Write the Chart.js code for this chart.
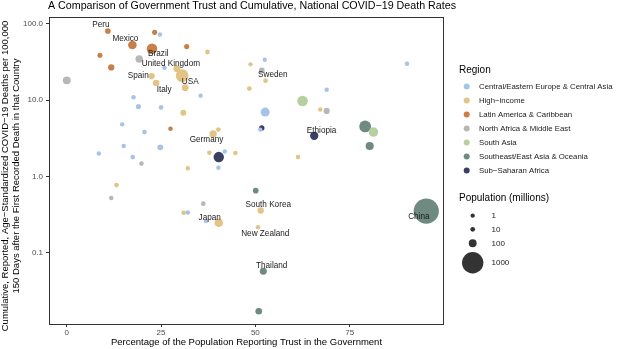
<!DOCTYPE html>
<html>
<head>
<meta charset="utf-8">
<script src="https://cdn.jsdelivr.net/npm/chart.js@4.4.1/dist/chart.umd.min.js"></script>
<style>
html,body{margin:0;padding:0;background:#fff;}
#wrap{position:relative;width:618px;height:349px;}
</style>
</head>
<body>
<div id="wrap"><canvas id="c" width="618" height="349"></canvas></div>
<script>
const regions = ["Central/Eastern Europe & Central Asia","High\u2212income","Latin America & Caribbean","North Africa & Middle East","South Asia","Southeast/East Asia & Oceania","Sub\u2212Saharan Africa"];
const regionColors = ["#a7c4e6","#e3c487","#c8804a","#b7b7b7","#b8d0a0","#6f8a80","#3b3f63"];

// Percentage trusting government
const trust = [10.9,23.3,24.7,17.4,22.6,31.8,8.8,19.2,37.3,11.8,25.9,29.2,0.0,30.6,22.5,23.7,31.4,48.4,17.7,35.5,19.0,25.0,30.9,14.7,27.5,20.6,38.8,40.2,15.1,24.8,8.5,17.5,37.8,40.3,41.9,44.7,19.8,32.1,40.2,52.5,48.7,51.7,52.7,90.2,68.9,62.5,67.2,68.9,52.6,51.7,51.3,65.6,79.1,81.3,80.3,61.3,13.2,11.8,36.2,31.0,32.1,36.9,40.3,50.1,51.4,50.7,52.1,50.9,95.3];
// Deaths per 100,000
const deaths = [80.0,76.9,71.8,52.5,47.0,50.0,38.5,34.4,42.5,26.7,26.5,25.7,18.1,20.8,20.6,16.7,14.5,14.1,10.9,11.4,8.2,8.0,6.8,4.8,4.2,3.8,3.6,4.1,2.5,2.4,2.0,1.79,2.04,1.79,2.12,2.02,1.47,1.28,1.30,33.7,29.3,24.4,17.9,29.9,13.6,9.7,7.5,7.2,6.95,4.3,4.1,3.4,4.5,3.8,2.5,1.79,0.77,0.52,0.44,0.334,0.337,0.26,0.247,0.65,0.358,0.216,0.0574,0.0172,0.351];
// Population (millions)
const population = [33,19,4,128,212,20,18,84,11,50,4,67,100,330,47,60,65,10,5,3,20,10,38,4,7,8,83,10,5,38,4,9,5,206,3,5,6,2,4,3,1,35,10,5,5,220,5,45,145,25,3,115,273,165,110,5,8,6,8,8,6,3,126,32,52,5,70,60,1400];
// Region index (into regions)
const regionIdx = [2,2,0,2,2,2,2,3,1,2,0,1,3,1,1,1,1,1,0,0,0,0,1,0,2,0,1,1,0,0,0,0,1,6,0,1,3,1,0,0,1,3,1,0,0,4,1,3,0,6,0,6,5,4,5,1,1,3,3,1,0,0,1,5,1,1,5,5,5];
// Country labels ("" = unlabeled)
const country = ["Peru","","","Mexico","Brazil","","","","","","","United Kingdom","","USA","Spain","Italy","","","","","","","","","","","Germany","","","","","","","","","","","","","","","","Sweden","","","","","","","","","Ethiopia","","","","","","","","","","","Japan","","South Korea","New Zealand","Thailand","","China"];

const xTicks = [0,25,50,75];
const yTicks = [0.1,1,10,100];
const popLegend = [1,10,100,1000];

function radiusOf(p){ return Math.sqrt(4.5 + 0.11*p); }

const datasets = regions.map((r,ri)=>({
  label: r,
  data: trust.map((t,i)=>({x:t,y:deaths[i],pop:population[i],name:country[i],ri:regionIdx[i]})).filter(d=>d.ri===ri),
  backgroundColor: regionColors[ri],
  borderWidth: 0,
  pointRadius: ctx => radiusOf(ctx.raw.pop),
  pointHoverRadius: ctx => radiusOf(ctx.raw.pop)
}));

const labelOffsets = {
  "Peru":[-7,-6],"Mexico":[-7,-6.4],"Brazil":[6.3,5.4],"United Kingdom":[-6,-5],
  "Spain":[-13.4,-0.7],"Italy":[8,6.3],"USA":[8,6],"Germany":[-6.6,6.3],"Sweden":[7.3,-6],
  "Ethiopia":[7.4,-5.3],"South Korea":[7.6,-5.7],"Japan":[-9,-5],"New Zealand":[7.3,6],
  "Thailand":[8.4,-5.7],"China":[-7.4,5.3]
};

const FONT = "'Liberation Sans', Arial, Helvetica, sans-serif";

const decor = {
  id:'decor',
  afterDatasetsDraw(chart){
    const ctx = chart.ctx, a = chart.chartArea, xs = chart.scales.x, ys = chart.scales.y;
    ctx.save();
    // country labels
    ctx.font = "8.2px " + FONT;
    ctx.fillStyle = "#1a1a1a";
    ctx.textAlign = "center"; ctx.textBaseline = "middle";
    trust.forEach((t,i)=>{
      const n = country[i]; if(!n) return;
      const off = labelOffsets[n] || [0,0];
      ctx.fillText(n, xs.getPixelForValue(t)+off[0], ys.getPixelForValue(deaths[i])+off[1]);
    });
    // panel border
    ctx.strokeStyle = "#333"; ctx.lineWidth = 1;
    ctx.strokeRect(Math.round(a.left)+0.5, Math.round(a.top)+0.5, Math.round(a.right-a.left)-1, Math.round(a.bottom-a.top));
    ctx.restore();
  },
  afterDraw(chart){
    const ctx = chart.ctx, a = chart.chartArea;
    ctx.save();
    ctx.fillStyle = "#000";
    // title
    ctx.font = "10.7px " + FONT;
    ctx.textAlign = "left"; ctx.textBaseline = "middle";
    ctx.fillText("A Comparison of Government Trust and Cumulative, National COVID\u221219 Death Rates", 48, 6.5);
    // x title
    ctx.font = "9.5px " + FONT;
    ctx.textAlign = "center";
    ctx.fillText("Percentage of the Population Reporting Trust in the Government", (a.left+a.right)/2, 342);
    // y title
    ctx.save();
    ctx.translate(0,176);
    ctx.rotate(-Math.PI/2);
    ctx.fillText("Cumulative, Reported, Age\u2212Standardized COVID\u221219 Deaths per 100,000", 0, 5.8);
    ctx.fillText("150 Days after the First Recorded Death in that Country", 0, 16.3);
    ctx.restore();
    // region legend
    ctx.font = "10px " + FONT;
    ctx.textAlign = "left";
    ctx.fillText("Region", 459, 70);
    ctx.font = "7.8px " + FONT;
    regions.forEach((r,i)=>{
      const y = 86.5 + i*14;
      ctx.fillStyle = regionColors[i];
      ctx.beginPath(); ctx.arc(466.7, y, 3, 0, Math.PI*2); ctx.fill();
      ctx.fillStyle = "#1a1a1a";
      ctx.fillText(r, 479, y);
    });
    // population legend
    ctx.fillStyle = "#000";
    ctx.font = "10px " + FONT;
    ctx.fillText("Population (millions)", 459, 198.5);
    ctx.font = "8px " + FONT;
    const ys = [215.7,229.3,243.3,262.7];
    popLegend.forEach((p,i)=>{
      ctx.fillStyle = "#333";
      ctx.beginPath(); ctx.arc(472.7, ys[i], radiusOf(p), 0, Math.PI*2); ctx.fill();
      ctx.fillStyle = "#1a1a1a";
      ctx.fillText(String(p), 491.5, ys[i]);
    });
    ctx.restore();
  }
};

new Chart(document.getElementById('c'), {
  type: 'scatter',
  data: { datasets },
  options: {
    responsive: false,
    animation: false,
    events: [],
    layout: { padding: { left: 0, top: 17, right: 174, bottom: 0 } },
    plugins: { legend: { display: false }, tooltip: { enabled: false }, title: { display: false } },
    scales: {
      x: {
        type: 'linear', min: -4.7, max: 100,
        afterBuildTicks: s => { s.ticks = xTicks.map(v=>({value:v})); },
        afterFit: s => { s.height = 25; },
        grid: { display: true, drawOnChartArea: false, drawTicks: true, tickLength: 3, color: "#333", lineWidth: 1 },
        border: { display: false },
        ticks: { font: { size: 8, family: FONT }, color: "#4d4d4d", padding: 1, maxRotation: 0, autoSkip: false }
      },
      y: {
        type: 'logarithmic', min: 0.0117, max: 122,
        afterBuildTicks: s => { s.ticks = yTicks.map(v=>({value:v})); },
        afterFit: s => { s.width = 49; },
        grid: { display: true, drawOnChartArea: false, drawTicks: true, tickLength: 3, color: "#333", lineWidth: 1 },
        border: { display: false },
        ticks: { font: { size: 8, family: FONT }, color: "#4d4d4d", padding: 3, autoSkip: false,
          callback: v => Number(v).toFixed(1) }
      }
    }
  },
  plugins: [decor]
});
</script>
</body>
</html>
